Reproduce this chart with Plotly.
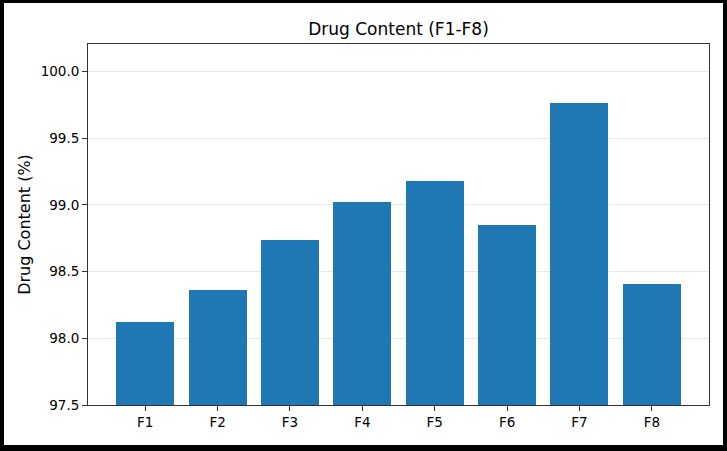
import plotly.graph_objects as go

# formulations and measured drug content (%)
formulations = ["F1", "F2", "F3", "F4", "F5", "F6", "F7", "F8"]
drug_content = [98.12, 98.36, 98.74, 99.02, 99.18, 98.85, 99.76, 98.41]
y_ticks = [97.5, 98.0, 98.5, 99.0, 99.5, 100.0]

W, H = 727, 451
L, R, T, B = 88, 18, 44, 46
pw, ph = W - L - R, H - T - B

fig = go.Figure(go.Bar(
    x=list(range(len(formulations))),
    y=drug_content,
    base=0,
    width=0.8,
    marker=dict(color="#1f77b4", line=dict(width=0)),
))

# thick black frame around the whole picture
def edge(x0, x1, y0, y1):
    return dict(type="rect", xref="paper", yref="paper",
                x0=(x0 - L) / pw, x1=(x1 - L) / pw,
                y0=(H - B - y1) / ph, y1=(H - B - y0) / ph,
                fillcolor="black", line=dict(width=0), layer="above")

frame = [edge(0, 4, 0, H), edge(W - 4, W, 0, H), edge(0, W, 0, 3), edge(0, W, H - 6, H)]

fig.update_layout(
    width=W, height=H,
    margin=dict(l=L, r=R, t=T, b=B),
    plot_bgcolor="white", paper_bgcolor="white",
    font=dict(family="DejaVu Sans", size=13.5, color="black"),
    title=dict(text="Drug Content (F1-F8)", x=(L + pw / 2) / W,
               xanchor="center", y=1 - 29 / H, yanchor="middle",
               font=dict(size=17, family="DejaVu Sans", color="black")),
    shapes=frame,
    showlegend=False,
    bargap=0,
)

fig.update_xaxes(
    range=[-0.79, 7.79],
    tickmode="array", tickvals=list(range(len(formulations))), ticktext=formulations,
    ticks="outside", ticklen=5, tickcolor="#333", tickwidth=1,
    showline=True, linecolor="#333", linewidth=1, mirror=True,
    showgrid=False, zeroline=False,
)
fig.update_yaxes(
    range=[97.5, 100.205],
    tickmode="array", tickvals=y_ticks, ticktext=[f"{v:.1f}" for v in y_ticks],
    ticks="outside", ticklen=5, tickcolor="#333", tickwidth=1,
    showline=True, linecolor="#333", linewidth=1, mirror=True,
    showgrid=True, gridcolor="#e8e8e8", gridwidth=1, zeroline=False,
    title=dict(text="Drug Content (%)", standoff=6),
)

fig.write_html("out.html", config={"displayModeBar": False},
               post_script="document.body.style.margin='0';")
